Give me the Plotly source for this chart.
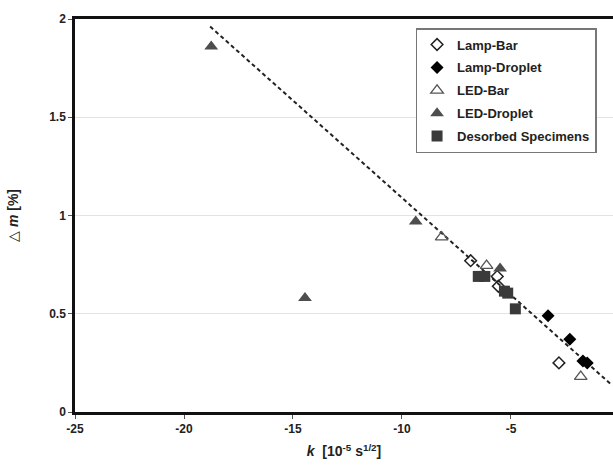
import plotly.graph_objects as go

# Data
lamp_bar_x = [-6.85, -5.63, -5.58, -2.8]
lamp_bar_y = [0.77, 0.69, 0.64, 0.25]

lamp_droplet_x = [-3.3, -2.3, -1.7, -1.5]
lamp_droplet_y = [0.49, 0.37, 0.26, 0.25]

led_bar_x = [-8.18, -6.12, -1.8]
led_bar_y = [0.89, 0.745, 0.18]

led_droplet_x = [-18.75, -14.45, -9.37, -5.5]
led_droplet_y = [1.86, 0.58, 0.97, 0.73]

desorbed_x = [-6.5, -6.2, -5.3, -5.15, -4.8]
desorbed_y = [0.69, 0.69, 0.615, 0.605, 0.525]

trend_slope = -0.099
trend_intercept = 0.10
trend_x = [-18.8, -0.35]
trend_y = [trend_slope * x + trend_intercept for x in trend_x]

x_ticks = [-25, -20, -15, -10, -5]
y_ticks = [0, 0.5, 1, 1.5, 2]

fig = go.Figure()

fig.add_trace(go.Scatter(
    x=trend_x, y=trend_y, mode="lines",
    line=dict(color="#222222", width=2, dash="4px,3px"),
    showlegend=False, hoverinfo="skip"))

fig.add_trace(go.Scatter(
    x=lamp_bar_x, y=lamp_bar_y, mode="markers", name="Lamp-Bar", legendgroup="a",
    marker=dict(symbol="diamond-open", size=9, color="#222222",
                line=dict(width=1.5, color="#222222"))))
fig.add_trace(go.Scatter(
    x=lamp_droplet_x, y=lamp_droplet_y, mode="markers", name="Lamp-Droplet", legendgroup="b",
    marker=dict(symbol="diamond", size=10, color="#000000")))
fig.add_trace(go.Scatter(
    x=led_bar_x, y=led_bar_y, mode="markers", name="LED-Bar", legendgroup="c",
    marker=dict(symbol="triangle-up-open", size=11, color="#555555",
                line=dict(width=1.3, color="#555555"))))
fig.add_trace(go.Scatter(
    x=led_droplet_x, y=led_droplet_y, mode="markers", name="LED-Droplet", legendgroup="d",
    marker=dict(symbol="triangle-up", size=12, color="#4d4d4d")))
fig.add_trace(go.Scatter(
    x=desorbed_x, y=desorbed_y, mode="markers", name="Desorbed Specimens", legendgroup="e",
    marker=dict(symbol="square", size=11, color="#3a3a3a")))

font_family = "Liberation Sans, Arial, sans-serif"

fig.update_layout(
    width=613, height=470,
    margin=dict(l=75, r=0, t=19, b=58),
    paper_bgcolor="white", plot_bgcolor="white",
    font=dict(family=font_family, size=12, color="#222222"),
    showlegend=True,
    legend=dict(
        x=0.633, y=0.977, xanchor="left", yanchor="top",
        bordercolor="#777777", borderwidth=1.5, bgcolor="white",
        font=dict(family=font_family, size=13, color="#222222", weight="bold"),
        tracegroupgap=3, itemwidth=30,
    ),
    xaxis=dict(
        range=[-25, -0.32], tickvals=x_ticks,
        ticktext=[str(v) for v in x_ticks],
        showgrid=False, zeroline=False,
        showline=True, linecolor="#111111", linewidth=2.5, mirror=True,
        ticks="outside", ticklen=4, tickcolor="#555555",
        tickfont=dict(family=font_family, size=12, weight="bold", color="#222222"),
        title=dict(text="<b><i>k</i>  [10<sup>-5</sup> s<sup>1/2</sup>]</b>",
                   font=dict(family=font_family, size=14, color="#222222"),
                   standoff=12),
    ),
    yaxis=dict(
        range=[0, 2], tickvals=y_ticks,
        ticktext=["0", "0.5", "1", "1.5", "2"],
        showgrid=True, gridcolor="#e3e3e3", gridwidth=1, zeroline=False,
        showline=True, linecolor="#111111", linewidth=2.5,
        ticks="outside", ticklen=4, tickcolor="#555555",
        tickfont=dict(family=font_family, size=12, weight="bold", color="#222222"),
        title=dict(text="△ <b><i>m</i> [%]</b>",
                   font=dict(family=font_family, size=14, color="#222222"),
                   standoff=28),
    ),
)

fig.write_html("out.html")
